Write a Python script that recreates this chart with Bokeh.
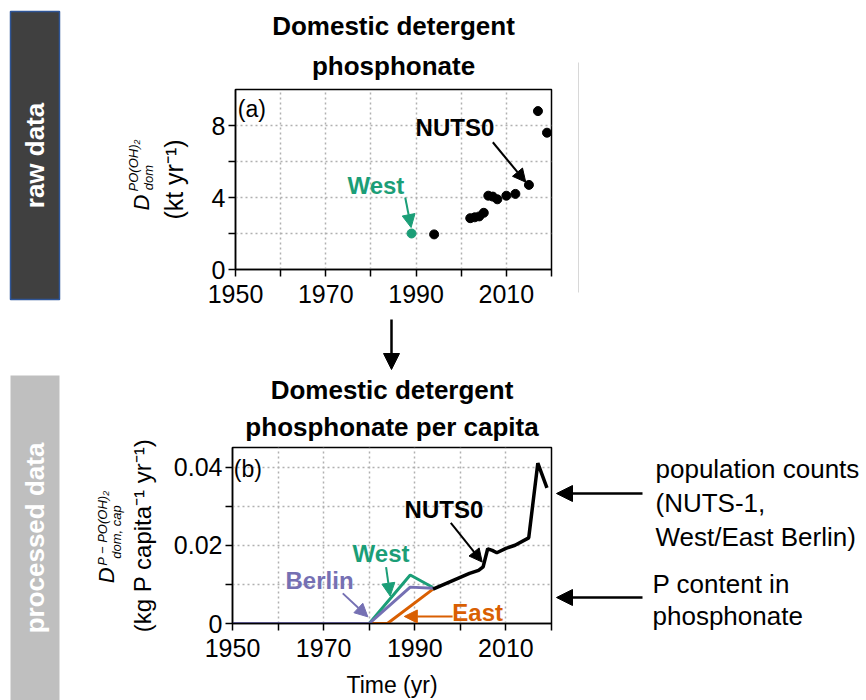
from math import pi
from bokeh.plotting import figure
from bokeh.models import Range1d, FixedTicker, Label, Arrow, NormalHead, Title
from bokeh.layouts import row, column
from bokeh.embed import file_html
from bokeh.resources import INLINE

# ---------------- data ----------------
raw_years = [1994, 2002, 2003, 2004, 2005, 2006, 2007, 2008, 2010, 2012, 2015, 2017, 2019]
raw_values = [1.95, 2.85, 2.9, 2.95, 3.15, 4.1, 4.05, 3.9, 4.1, 4.2, 4.7, 8.8, 7.6]
west_raw_years = [1989]
west_raw_values = [2.0]

nuts0_years = [1994, 2002, 2003, 2004, 2005, 2006, 2007, 2008, 2010, 2012, 2015, 2017, 2019]
nuts0_pc = [0.0088, 0.0128, 0.0132, 0.0136, 0.0145, 0.0191, 0.0187, 0.0181, 0.0192, 0.0200, 0.0219, 0.0410, 0.0347]
west_years = [1950, 1980, 1989, 1994]
west_pc = [0, 0, 0.0124, 0.0092]
east_years = [1980, 1984, 1994]
east_pc = [0, 0, 0.0088]
berlin_years = [1950, 1980, 1989, 1994]
berlin_pc = [0, 0, 0.0093, 0.0090]

x_ticks = [1950, 1960, 1970, 1980, 1990, 2000, 2010, 2020]
x_tick_labels = {1950: "1950", 1960: "", 1970: "1970", 1980: "", 1990: "1990",
                 2000: "", 2010: "2010", 2020: ""}
ya_ticks = [0, 2, 4, 6, 8]
ya_tick_labels = {0: "0", 2: "", 4: "4", 6: "", 8: "8"}
yb_ticks = [0, 0.01, 0.02, 0.03, 0.04]
yb_tick_labels = {0: "0", 0.01: "", 0.02: "0.02", 0.03: "", 0.04: "0.04"}

FONT = "Liberation Sans"
GREEN = "#1b9e77"
ORANGE = "#d95f02"
PURPLE = "#7570b3"


def lab(p, x, y, text, size, color="black", style="normal", angle=0.0,
        align="center", baseline="middle"):
    p.add_layout(Label(x=x, y=y, text=text, text_font=FONT,
                       text_font_size=f"{size}px", text_color=color,
                       text_font_style=style, angle=angle,
                       text_align=align, text_baseline=baseline))


def arr(p, x0, y0, x1, y1, color="black", size=13, width=2.0):
    p.add_layout(Arrow(end=NormalHead(size=size, fill_color=color, line_color=color, line_width=1),
                       x_start=x0, y_start=y0, x_end=x1, y_end=y1,
                       line_color=color, line_width=width))


def blank(width, height, x0, x1, y0, y1, top=0, bottom=0):
    f = figure(width=width, height=height, x_range=Range1d(x0, x1), y_range=Range1d(y1, y0),
               output_backend="svg", toolbar_location=None, min_border=0,
               min_border_top=top, min_border_bottom=bottom,
               x_axis_type=None, y_axis_type=None, title=None)
    f.outline_line_color = None
    f.xgrid.visible = False
    f.ygrid.visible = False
    return f


def panel(width, height, left, top, bottom, y_end, yticks, ylabels, titles,
          ylabel, ylabel_size, ylabel_standoff):
    p = figure(width=width, height=height, x_range=Range1d(1950, 2020),
               y_range=Range1d(0, y_end), output_backend="svg", title=None,
               toolbar_location=None, min_border_left=left, min_border_right=2,
               min_border_top=top, min_border_bottom=bottom)
    p.outline_line_color = "black"
    p.outline_line_width = 1.5
    p.xaxis.ticker = FixedTicker(ticks=x_ticks)
    p.xaxis.major_label_overrides = x_tick_labels
    p.yaxis.ticker = FixedTicker(ticks=yticks)
    p.yaxis.major_label_overrides = ylabels
    for ax in (p.xaxis, p.yaxis):
        ax.axis_line_width = 1.5
        ax.major_tick_line_width = 1.5
        ax.major_tick_out = 7
        ax.major_tick_in = 0
        ax.minor_tick_line_color = None
        ax.major_label_text_font = FONT
        ax.major_label_text_font_size = "25px"
        ax.major_label_text_color = "black"
        ax.axis_label_text_font = FONT
        ax.axis_label_text_font_style = "normal"
        ax.axis_label_text_color = "black"
    p.yaxis.major_label_standoff = 3
    p.xaxis.major_label_standoff = 8
    p.yaxis.axis_label = ylabel
    p.yaxis.axis_label_text_font_size = f"{ylabel_size}px"
    p.yaxis.axis_label_standoff = ylabel_standoff
    for g in (p.xgrid, p.ygrid):
        g.grid_line_color = "#b0b0b0"
        g.grid_line_dash = "2 3"
        g.grid_line_width = 1.5
    for text, standoff in titles:
        p.add_layout(Title(text=text, align="center", text_font=FONT, text_font_size="26px",
                           text_font_style="bold", text_color="black", standoff=standoff), "above")
    return p


# ---------------- panel (a) ----------------
pa = panel(397, 314, 75, 89, 45, 10, ya_ticks, ya_tick_labels,
           [("phosphonate", 17), ("Domestic detergent", 0)],
           "(kt yr⁻¹)", 25, 21)
pa.scatter(raw_years, raw_values, size=9, color="black")
pa.scatter(west_raw_years, west_raw_values, size=9, color=GREEN)
lab(pa, 1950.5, 8.94, "(a)", 23, align="left")
lab(pa, 1998.6, 7.9, "NUTS0", 24, style="bold")
arr(pa, 2007.0, 7.07, 2014.3, 4.85)
lab(pa, 1981.1, 4.67, "West", 24, color=GREEN, style="bold")
arr(pa, 1987.6, 4.0, 1988.9, 2.33, color=GREEN)

# symbol part of the y label of (a); frame of this strip = frame of panel (a)
la = blank(63, 314, 93, 156, 89, 269, top=89, bottom=45)
lab(la, 141, 202, "D", 22, style="italic", angle=pi / 2)
lab(la, 133, 165, "PO(OH)₂", 13, style="italic", angle=pi / 2)
lab(la, 148, 177, "dom", 13, style="italic", angle=pi / 2)

# ---------------- middle arrow ----------------
mid = blank(460, 58, 93, 553, 314, 372)
arr(mid, 391, 319, 391, 369, size=16, width=2.5)

# ---------------- panel (b) ----------------
pb = panel(428, 328, 106, 73, 76, 0.045, yb_ticks, yb_tick_labels,
           [("phosphonate per capita", 11), ("Domestic detergent", 0)],
           "(kg P capita⁻¹ yr⁻¹)", 24, 15)
pb.line(west_years, west_pc, color=GREEN, line_width=3)
pb.line(east_years, east_pc, color=ORANGE, line_width=3)
pb.line(berlin_years, berlin_pc, color=PURPLE, line_width=3)
pb.line(nuts0_years, nuts0_pc, color="black", line_width=3.5)
pb.xaxis.axis_label = "Time (yr)"
pb.xaxis.axis_label_text_font_size = "23px"
pb.xaxis.axis_label_standoff = 12
lab(pb, 1950.3, 0.0395, "(b)", 23, align="left")
lab(pb, 1996.4, 0.0291, "NUTS0", 24, style="bold")
arr(pb, 1997.9, 0.0257, 2004.8, 0.0157)
lab(pb, 1982.6, 0.0178, "West", 24, color=GREEN, style="bold")
arr(pb, 1983.7, 0.0144, 1984.6, 0.0070, color=GREEN)
lab(pb, 1969.1, 0.0111, "Berlin", 24, color=PURPLE, style="bold")
arr(pb, 1974.2, 0.0077, 1979.7, 0.0017, color=PURPLE)
lab(pb, 2003.8, 0.0027, "East", 24, color=ORANGE, style="bold")
arr(pb, 1998.3, 0.0018, 1987.7, 0.0018, color=ORANGE)

# symbol part of the y label of (b); frame of this strip = frame of panel (b)
lb = blank(32, 328, 93, 125, 445, 624, top=73, bottom=76)
lab(lb, 106, 575, "D", 22, style="italic", angle=pi / 2)
lab(lb, 102, 527, "P − PO(OH)₂", 13, style="italic", angle=pi / 2)
lab(lb, 116, 531, "dom, cap", 13, style="italic", angle=pi / 2)

# ---------------- left strip ----------------
strip = blank(93, 700, 0, 93, 0, 700)
strip.quad(left=10, right=59, top=11, bottom=299, fill_color="#404040",
           line_color="#2f5597", line_width=1.5)
strip.quad(left=10, right=59, top=375, bottom=702, fill_color="#bfbfbf", line_color=None)
lab(strip, 34.5, 155, "raw data", 26, color="white", style="bold", angle=pi / 2)
lab(strip, 34.5, 537.5, "processed data", 26, color="white", style="bold", angle=pi / 2)

# ---------------- right notes ----------------
right = blank(313, 700, 553, 866, 0, 700)
right.line([578, 578], [62, 292], color="#d8d8d8", line_width=1)
arr(right, 642, 493, 556, 493, size=16, width=2.5)
arr(right, 642, 597, 556, 597, size=16, width=2.5)
lab(right, 655, 468, "population counts", 26, align="left")
lab(right, 655, 502, "(NUTS-1,", 26, align="left")
lab(right, 655, 536, "West/East Berlin)", 26, align="left")
lab(right, 652, 583, "P content in", 26, align="left")
lab(right, 652, 615, "phosphonate", 26, align="left")

layout = row(strip, column(row(la, pa), mid, row(lb, pb)), right)
open("out.html", "w").write(file_html(layout, INLINE))
